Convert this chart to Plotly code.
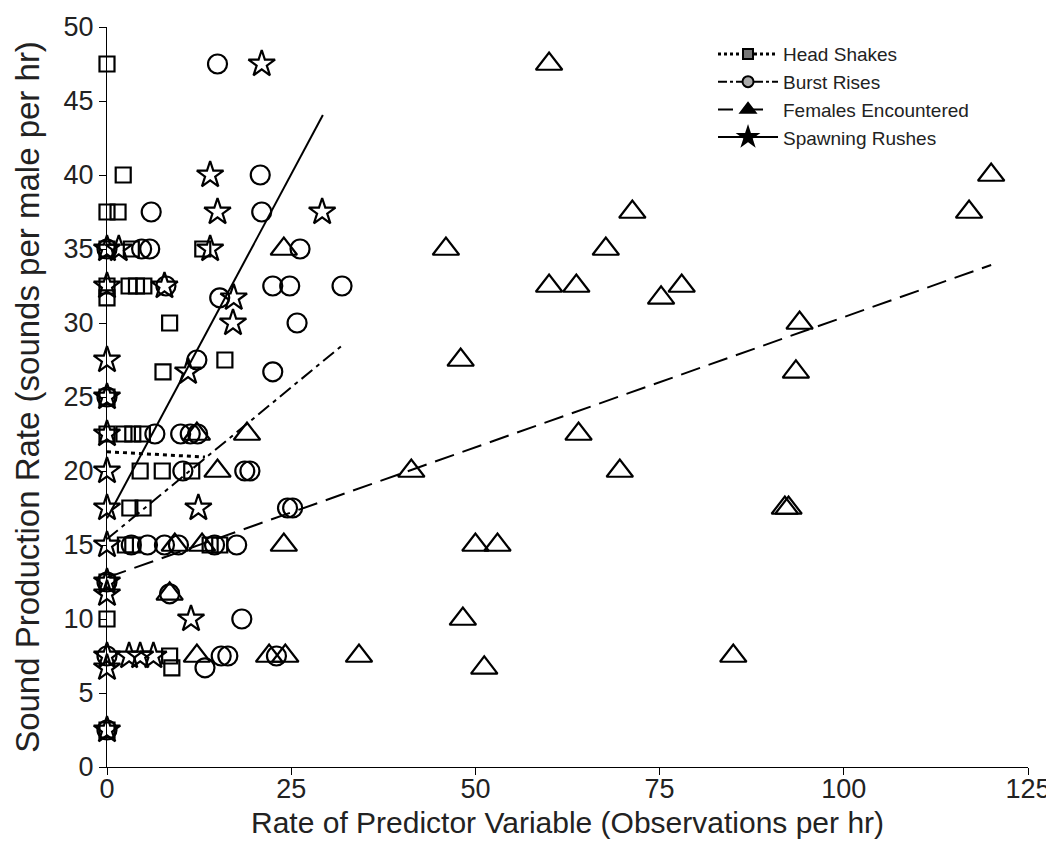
import plotly.graph_objects as go

# ---------------- data ----------------
series_names = ["Head Shakes", "Burst Rises", "Females Encountered", "Spawning Rushes"]

hs_x = [0, 2.2, 0, 1.5, 0, 3.3, 13, 0, 3, 4, 5, 0, 8.5, 16, 7.6, 0, 0, 2.3, 3.5, 4.8,
        4.5, 7.5, 11.5, 3.1, 4.9, 2.5, 3.5, 14, 15.3, 0, 0, 8.5, 8.8, 0]
hs_y = [47.5, 40, 37.5, 37.5, 35, 35, 35, 32.5, 32.5, 32.5, 32.5, 31.7, 30, 27.5, 26.7, 25, 22.5, 22.5, 22.5, 22.5,
        20, 20, 20, 17.5, 17.5, 15, 15, 15, 15, 12.5, 10, 7.5, 6.7, 2.5]

br_x = [15, 20.8, 6, 21, 4.7, 5.8, 26.2, 0, 22.5, 24.8, 31.9, 8, 15.3, 25.8, 12.2, 22.5, 0,
        6.5, 10, 11.3, 12.3, 10.3, 18.7, 19.4, 24.5, 25.2, 3.3, 5.5, 7.8, 9.7, 14.6, 17.6,
        0, 8.5, 18.3, 0, 15.5, 16.4, 23, 13.3, 0]
br_y = [47.5, 40, 37.5, 37.5, 35, 35, 35, 35, 32.5, 32.5, 32.5, 32.5, 31.7, 30, 27.5, 26.7, 25,
        22.5, 22.5, 22.5, 22.5, 20, 20, 20, 17.5, 17.5, 15, 15, 15, 15, 15, 15,
        12.5, 11.7, 10, 7.5, 7.5, 7.5, 7.5, 6.7, 2.5]

fe_x = [60, 120, 117, 71.3, 46, 67.7, 24, 60, 63.7, 78, 75.2, 94, 48, 93.5, 19, 12.2, 64,
        15, 41.3, 69.6, 92, 92.5, 9.2, 12.9, 24, 50, 53, 8.5, 48.3, 12.2, 22, 24.2, 34.2, 85, 51.2]
fe_y = [47.5, 40, 37.5, 37.5, 35, 35, 35, 32.5, 32.5, 32.5, 31.7, 30, 27.5, 26.7, 22.5, 22.5, 22.5,
        20, 20, 20, 17.5, 17.5, 15, 15, 15, 15, 15, 11.7, 10, 7.5, 7.5, 7.5, 7.5, 7.5, 6.7]

sr_x = [21, 14, 15, 29.2, 0, 1.6, 14, 0, 7.8, 17.2, 17.1, 0, 11, 0, 0, 0, 0, 12.4, 0, 0, 0,
        11.4, 0, 3, 4.5, 6.3, 0, 0]
sr_y = [47.5, 40, 37.5, 37.5, 35, 35, 35, 32.5, 32.5, 31.7, 30, 27.5, 26.7, 25, 22.5, 20, 17.5, 17.5, 15, 12.5, 11.7,
        10, 7.5, 7.5, 7.5, 7.5, 6.7, 2.5]

# regression lines: intercept, slope, x-range end
fit_intercept = [21.3, 15.4, 12.8, 16.8]
fit_slope = [-0.027, 0.41, 0.176, 0.93]
fit_xmax = [13.3, 32.0, 120.0, 29.3]

x_ticks = [0, 25, 50, 75, 100, 125]
y_ticks = [0, 5, 10, 15, 20, 25, 30, 35, 40, 45, 50]

x_title = "Rate of Predictor Variable (Observations per hr)"
y_title = "Sound Production Rate (sounds per male per hr)"

# ---------------- styles ----------------
FONT = "Arial, 'Liberation Sans', sans-serif"
TXT = "#222222"
symbols = ["square-open", "circle-open", "triangle-up-open", "star-open"]
sizes = [15, 19, 23, 20]
legend_symbols = ["square", "circle", "triangle-up", "star"]
legend_fill = ["#777777", "#aaaaaa", "black", "black"]
legend_sizes = [10, 11, 13, 14]
dashes = ["4px,4px", "14px,5px,4px,5px", "20px,9px", "solid"]
line_widths = [3, 2, 2, 2]

xs = [hs_x, br_x, fe_x, sr_x]
ys = [hs_y, br_y, fe_y, sr_y]

fig = go.Figure()

for i in range(4):
    # data points
    fig.add_trace(go.Scatter(
        x=xs[i], y=ys[i], mode="markers", showlegend=False, cliponaxis=False,
        marker=dict(symbol=symbols[i], size=sizes[i], color="black",
                    line=dict(color="black", width=2.2)),
    ))
    # regression line
    x0, x1 = 0.0, fit_xmax[i]
    fig.add_trace(go.Scatter(
        x=[x0, x1], y=[fit_intercept[i] + fit_slope[i] * x0, fit_intercept[i] + fit_slope[i] * x1],
        mode="lines", showlegend=False, cliponaxis=False,
        line=dict(color="black", width=line_widths[i], dash=dashes[i]),
    ))

legend_dashes = ["dot", "dashdot", "longdash", "solid"]
for i in range(4):
    fig.add_trace(go.Scatter(
        x=[None], y=[None], mode="lines+markers", name=series_names[i],
        line=dict(color="black", width=2 if i else 3, dash=legend_dashes[i]),
        marker=dict(symbol=legend_symbols[i], size=legend_sizes[i], color=legend_fill[i],
                    line=dict(color="black", width=2)),
    ))

# the page adds an 8px body margin, so the figure is sized to fit inside it
fig.update_layout(
    width=1046, height=842,
    margin=dict(l=99, r=26, t=19, b=83),
    plot_bgcolor="white", paper_bgcolor="white",
    font=dict(family=FONT, color=TXT),
    showlegend=True,
    legend=dict(x=0.658, y=0.989, xanchor="left", yanchor="top",
                bgcolor="rgba(0,0,0,0)", font=dict(size=19, family=FONT, color=TXT),
                itemwidth=60, tracegroupgap=0, traceorder="normal"),
    xaxis=dict(range=[0, 125], tickvals=x_ticks, ticktext=[str(v) for v in x_ticks],
               showgrid=False, zeroline=False, showline=True, linecolor="black", linewidth=1,
               ticks="outside", ticklen=7, tickcolor="black", automargin=False,
               ticklabelstandoff=-9,
               tickfont=dict(size=27, family=FONT, color=TXT)),
    yaxis=dict(range=[0, 50], tickvals=y_ticks, ticktext=[str(v) for v in y_ticks],
               showgrid=False, zeroline=False, showline=True, linecolor="black", linewidth=1,
               ticks="outside", ticklen=7, tickcolor="black", automargin=False,
               tickfont=dict(size=27, family=FONT, color=TXT),
               title=dict(text=y_title, font=dict(size=33, family=FONT, color=TXT), standoff=14)),
    annotations=[dict(text=x_title, xref="paper", yref="paper", x=0.5, y=0,
                      xanchor="center", yanchor="middle", yshift=-55, showarrow=False,
                      font=dict(size=30, family=FONT, color=TXT))],
)

fig.write_html("out.html")
